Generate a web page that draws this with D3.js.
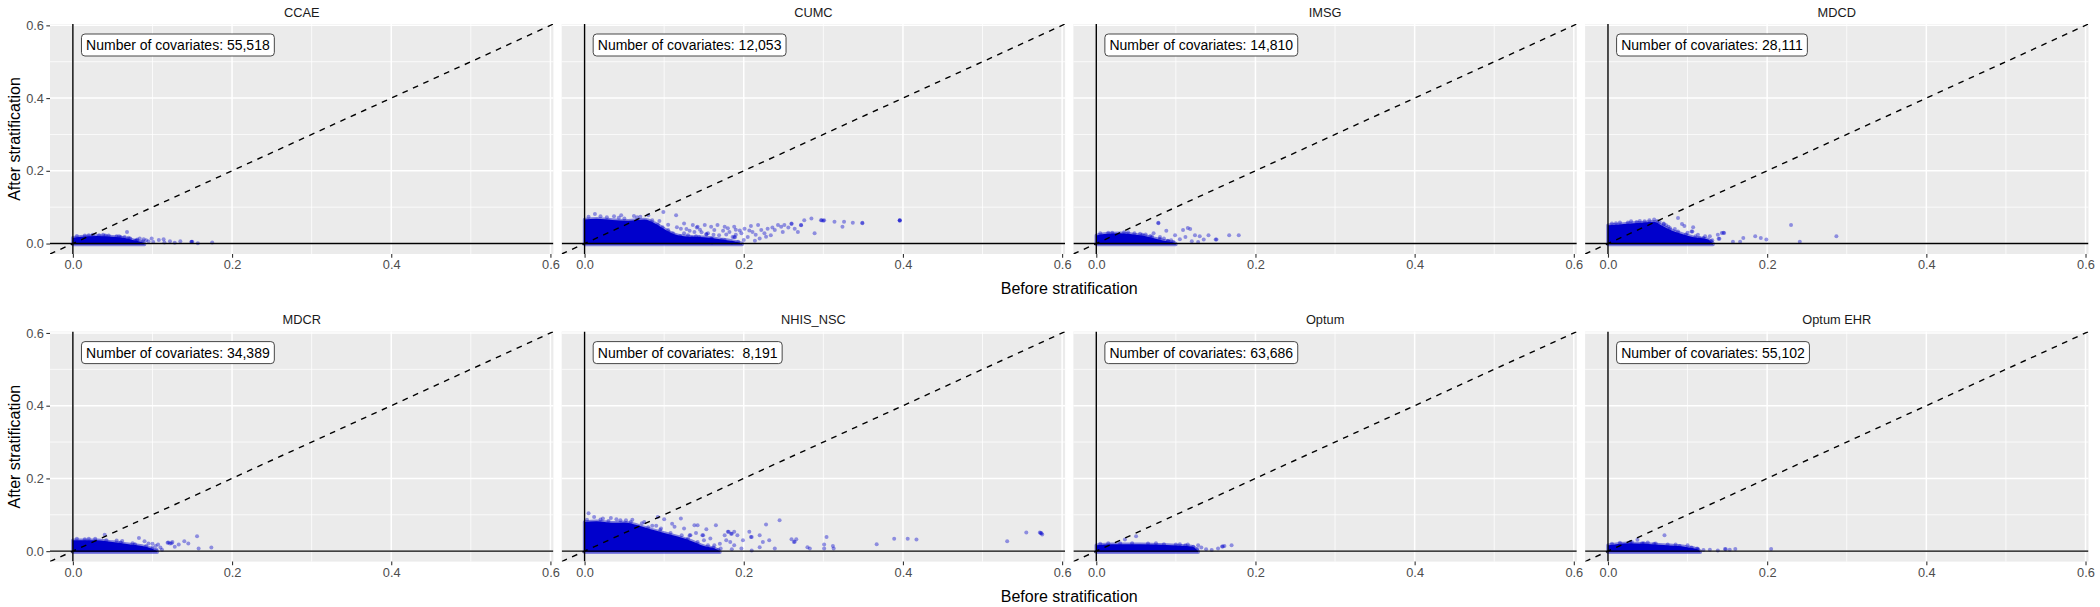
<!DOCTYPE html>
<html>
<head>
<meta charset="utf-8">
<script src="https://cdn.jsdelivr.net/npm/d3@7"></script>
<style>
  body { margin: 0; background: #fff; }
  svg text { font-family: "Liberation Sans", Arial, sans-serif; }
</style>
</head>
<body>
<svg id="chart" width="2100" height="607"></svg>
<script>
// Facet order, left to right, top row then bottom row
const panelNames = ['CCAE', 'CUMC', 'IMSG', 'MDCD', 'MDCR', 'NHIS_NSC', 'Optum', 'Optum EHR'];
const covariateCounts = [55518, 12053, 14810, 28111, 34389, 8191, 63686, 55102];

const majorBreaks = [0, 0.2, 0.4, 0.6];
const minorBreaks = [0.1, 0.3, 0.5];
const dataRange = [0, 0.575]; // largest value over all panels

// Saturated part of each cloud: [before, upper edge of after]
const coreCCAE = [[0, 0.016], [0.01, 0.019], [0.03, 0.021], [0.05, 0.019], [0.065, 0.015], [0.075, 0.01], [0.085, 0.005], [0.09, 0]];
const coreCUMC = [[0, 0.066], [0.015, 0.068], [0.035, 0.065], [0.055, 0.063], [0.075, 0.066], [0.088, 0.056], [0.1, 0.04], [0.112, 0.026], [0.125, 0.02], [0.15, 0.017], [0.17, 0.012], [0.188, 0.006], [0.198, 0]];
const coreIMSG = [[0, 0.022], [0.01, 0.026], [0.03, 0.028], [0.05, 0.024], [0.065, 0.019], [0.075, 0.013], [0.085, 0.008], [0.095, 0.004], [0.1, 0]];
const coreMDCD = [[0, 0.05], [0.02, 0.054], [0.045, 0.058], [0.058, 0.06], [0.067, 0.05], [0.08, 0.036], [0.092, 0.027], [0.108, 0.017], [0.125, 0.012], [0.132, 0]];
const coreMDCR = [[0, 0.03], [0.03, 0.03], [0.05, 0.025], [0.07, 0.019], [0.087, 0.014], [0.099, 0.007], [0.106, 0]];
const coreNHIS = [[0, 0.08], [0.015, 0.082], [0.035, 0.078], [0.05, 0.079], [0.067, 0.071], [0.083, 0.06], [0.1, 0.05], [0.117, 0.04], [0.134, 0.028], [0.15, 0.014], [0.165, 0.006], [0.17, 0]];
const coreOptum = [[0, 0.016], [0.02, 0.019], [0.055, 0.019], [0.095, 0.016], [0.12, 0.013], [0.128, 0]];
const coreOptumEHR = [[0, 0.016], [0.025, 0.022], [0.07, 0.017], [0.1, 0.011], [0.112, 0.005], [0.116, 0]];

// Scattered covariates: [before, after]
const ptsCCAE = [[0.068, 0.032], [0.041, 0.022], [0.055, 0.02], [0.084, 0.014], [0.089, 0.012], [0.099, 0.014], [0.108, 0.01], [0.114, 0.012], [0.122, 0.006], [0.135, 0.006], [0.149, 0.005], [0.149, 0.004], [0.15, 0.005], [0.157, 0.001], [0.175, 0.003], [0.095, 0.006], [0.078, 0.008], [0.02, 0.023], [0.033, 0.023], [0.06, 0.018], [0.07, 0.016], [0.101, 0.004], [0.115, 0.003], [0.128, 0.002], [0.092, 0.009], [0.081, 0.011],
  [0.005, 0.021], [0.015, 0.022], [0.025, 0.024], [0.045, 0.022], [0.058, 0.02], [0.072, 0.014], [0.08, 0.009], [0.088, 0.006], [0.065, 0.018], [0.038, 0.024]];
const ptsCUMC = [[0.013, 0.081], [0.037, 0.075], [0.046, 0.078], [0.062, 0.076], [0.08, 0.078], [0.099, 0.087], [0.115, 0.078], [0.094, 0.062], [0.105, 0.052],
  [0.125, 0.055], [0.136, 0.051], [0.142, 0.046], [0.151, 0.051], [0.159, 0.046], [0.167, 0.051], [0.176, 0.046], [0.188, 0.046], [0.201, 0.041], [0.209, 0.048], [0.218, 0.051], [0.222, 0.037], [0.234, 0.023], [0.243, 0.051], [0.247, 0.046], [0.251, 0.051], [0.26, 0.055], [0.26, 0.054], [0.264, 0.041], [0.268, 0.032], [0.272, 0.051], [0.272, 0.05], [0.276, 0.064], [0.285, 0.069], [0.289, 0.028], [0.297, 0.064], [0.298, 0.064], [0.3, 0.063], [0.301, 0.064], [0.314, 0.06], [0.326, 0.06], [0.324, 0.046], [0.337, 0.057], [0.349, 0.057], [0.349, 0.056], [0.396, 0.064], [0.396, 0.064], [0.396, 0.063],
  [0.105, 0.037], [0.111, 0.028], [0.117, 0.014], [0.121, 0.041], [0.13, 0.023], [0.134, 0.009], [0.138, 0.032], [0.144, 0.018], [0.148, 0.005], [0.155, 0.028], [0.159, 0.014], [0.163, 0.037], [0.169, 0.023], [0.176, 0.009], [0.182, 0.032], [0.186, 0.018], [0.193, 0.005], [0.197, 0.028], [0.205, 0.018], [0.211, 0.032], [0.22, 0.014], [0.226, 0.028], [0.23, 0.041], [0.239, 0.037], [0.249, 0.032], [0.153, 0.026], [0.153, 0.025], [0.17, 0.004], [0.171, 0.004], [0.188, 0.018], [0.189, 0.017], [0.128, 0.04], [0.145, 0.038], [0.116, 0.045], [0.18, 0.042], [0.195, 0.036], [0.215, 0.024], [0.2, 0.01], [0.185, 0.003], [0.16, 0.003], [0.14, 0.02], [0.125, 0.028], [0.11, 0.01], [0.178, 0.025],
  [0.005, 0.074], [0.02, 0.075], [0.028, 0.072], [0.043, 0.071], [0.05, 0.069], [0.066, 0.072], [0.07, 0.074], [0.085, 0.064], [0.092, 0.052], [0.098, 0.045], [0.106, 0.03], [0.12, 0.02], [0.135, 0.016], [0.16, 0.013], [0.172, 0.01], [0.175, 0.004],
  [0.132, 0.035], [0.147, 0.031], [0.162, 0.024], [0.174, 0.035], [0.19, 0.024], [0.207, 0.036], [0.214, 0.008], [0.228, 0.019], [0.236, 0.044], [0.256, 0.044], [0.19, 0.038], [0.141, 0.044]];
const ptsIMSG = [[0.078, 0.057], [0.078, 0.056], [0.072, 0.028], [0.088, 0.035], [0.109, 0.037], [0.115, 0.043], [0.118, 0.04], [0.124, 0.023], [0.13, 0.02], [0.135, 0.011], [0.141, 0.023], [0.15, 0.011], [0.151, 0.011], [0.167, 0.023], [0.179, 0.023], [0.099, 0.023], [0.085, 0.014], [0.094, 0.009], [0.105, 0.012], [0.112, 0.018], [0.12, 0.006], [0.128, 0.004], [0.04, 0.031], [0.055, 0.027], [0.062, 0.025], [0.02, 0.03], [0.068, 0.021], [0.08, 0.018], [0.09, 0.006],
  [0.005, 0.028], [0.015, 0.03], [0.035, 0.031], [0.048, 0.028], [0.058, 0.024], [0.07, 0.019], [0.08, 0.013], [0.09, 0.008], [0.097, 0.004]];
const ptsMDCD = [[0.029, 0.061], [0.036, 0.059], [0.046, 0.061], [0.058, 0.066], [0.065, 0.059], [0.073, 0.05], [0.088, 0.07], [0.093, 0.054], [0.096, 0.048], [0.107, 0.045], [0.105, 0.033], [0.106, 0.033], [0.113, 0.024], [0.122, 0.02], [0.128, 0.02], [0.138, 0.024], [0.143, 0.029], [0.146, 0.029], [0.145, 0.03], [0.139, 0.013], [0.14, 0.013], [0.157, 0.005], [0.166, 0.005], [0.17, 0.015], [0.185, 0.02], [0.192, 0.015], [0.199, 0.011], [0.23, 0.051], [0.241, 0.005], [0.287, 0.02], [0.076, 0.046], [0.084, 0.04], [0.1, 0.03], [0.115, 0.015], [0.12, 0.008], [0.131, 0.009], [0.01, 0.056], [0.07, 0.055],
  [0.005, 0.055], [0.015, 0.058], [0.025, 0.058], [0.04, 0.062], [0.052, 0.064], [0.062, 0.062], [0.07, 0.053], [0.078, 0.042], [0.088, 0.033], [0.098, 0.025], [0.11, 0.02], [0.12, 0.015], [0.13, 0.006]];
const ptsMDCR = [[0.04, 0.045], [0.062, 0.028], [0.083, 0.036], [0.09, 0.027], [0.095, 0.021], [0.1, 0.02], [0.104, 0.014], [0.11, 0.01], [0.119, 0.023], [0.122, 0.021], [0.125, 0.025], [0.12, 0.024], [0.124, 0.022], [0.133, 0.018], [0.14, 0.027], [0.145, 0.021], [0.156, 0.041], [0.158, 0.007], [0.174, 0.01], [0.02, 0.034], [0.055, 0.029], [0.075, 0.022], [0.112, 0.004], [0.128, 0.012], [0.107, 0.018],
  [0.005, 0.034], [0.015, 0.033], [0.028, 0.034], [0.042, 0.03], [0.06, 0.024], [0.078, 0.019], [0.092, 0.014], [0.1, 0.009], [0.105, 0.004]];
const ptsNHIS = [[0.005, 0.104], [0.012, 0.094], [0.023, 0.09], [0.033, 0.091], [0.052, 0.085], [0.075, 0.08], [0.092, 0.094], [0.1, 0.088], [0.121, 0.09], [0.096, 0.062], [0.113, 0.067], [0.125, 0.062], [0.138, 0.071], [0.142, 0.071], [0.153, 0.06], [0.165, 0.071], [0.132, 0.044], [0.133, 0.044], [0.148, 0.044], [0.149, 0.044], [0.15, 0.03], [0.163, 0.016], [0.171, 0.007], [0.176, 0.044], [0.18, 0.053], [0.181, 0.053], [0.184, 0.048], [0.185, 0.048], [0.188, 0.053], [0.192, 0.044], [0.199, 0.03], [0.178, 0.03], [0.183, 0.025], [0.188, 0.016], [0.197, 0.007], [0.207, 0.053], [0.209, 0.039], [0.21, 0.039], [0.22, 0.044], [0.224, 0.025], [0.228, 0.073], [0.22, 0.011], [0.232, 0.03], [0.239, 0.007], [0.245, 0.085], [0.26, 0.033], [0.263, 0.025], [0.264, 0.026], [0.266, 0.033], [0.28, 0.011], [0.283, 0.007], [0.301, 0.018], [0.304, 0.039], [0.301, 0.007], [0.312, 0.014], [0.313, 0.007], [0.367, 0.019], [0.389, 0.034], [0.406, 0.034], [0.417, 0.032], [0.531, 0.027], [0.555, 0.051], [0.572, 0.051], [0.573, 0.05], [0.575, 0.046], [0.574, 0.049], [0.11, 0.075], [0.09, 0.07], [0.14, 0.05], [0.158, 0.035], [0.17, 0.02], [0.06, 0.086], [0.04, 0.088], [0.085, 0.07], [0.128, 0.03], [0.145, 0.01], [0.155, 0.005], [0.185, 0.005], [0.21, 0.002],
  [0.003, 0.086], [0.02, 0.087], [0.03, 0.083], [0.045, 0.085], [0.058, 0.08], [0.072, 0.077], [0.08, 0.066], [0.095, 0.058], [0.108, 0.05], [0.122, 0.044], [0.13, 0.035], [0.142, 0.025], [0.155, 0.016], [0.162, 0.01], [0.168, 0.004]];
const ptsOptum = [[0.05, 0.041], [0.036, 0.032], [0.128, 0.016], [0.138, 0.005], [0.153, 0.007], [0.158, 0.013], [0.159, 0.013], [0.161, 0.014], [0.17, 0.016], [0.115, 0.018], [0.105, 0.019], [0.075, 0.022], [0.03, 0.022], [0.132, 0.01], [0.145, 0.003],
  [0.005, 0.02], [0.015, 0.022], [0.045, 0.022], [0.065, 0.021], [0.085, 0.019], [0.1, 0.018], [0.112, 0.016], [0.122, 0.012], [0.127, 0.006]];
const ptsOptumEHR = [[0.071, 0.044], [0.037, 0.031], [0.043, 0.022], [0.1, 0.016], [0.112, 0.007], [0.128, 0.004], [0.138, 0.002], [0.147, 0.006], [0.148, 0.005], [0.153, 0.004], [0.16, 0.006], [0.205, 0.006], [0.05, 0.024], [0.085, 0.018], [0.12, 0.003], [0.03, 0.025], [0.06, 0.021],
  [0.005, 0.02], [0.015, 0.023], [0.028, 0.025], [0.045, 0.022], [0.058, 0.02], [0.075, 0.018], [0.09, 0.014], [0.105, 0.01], [0.113, 0.006]];

const cores = [coreCCAE, coreCUMC, coreIMSG, coreMDCD, coreMDCR, coreNHIS, coreOptum, coreOptumEHR];
const points = [ptsCCAE, ptsCUMC, ptsIMSG, ptsMDCD, ptsMDCR, ptsNHIS, ptsOptum, ptsOptumEHR];

// Layout
const panelW = 503.4;
const panelH = 230;
const colStep = 511.7;
const rowStep = 307.6;
const left0 = 50;
const top0 = 24;
const tickLen = 3.67;
const pointColor = '#0000CC';

const svg = d3.select('#chart');

// ggplot style 5% expansion of the data range
const span = dataRange[1] - dataRange[0];
const lims = [dataRange[0] - 0.05 * span, dataRange[1] + 0.05 * span];

const x = d3.scaleLinear().domain(lims).range([0, panelW]);
const y = d3.scaleLinear().domain(lims).range([panelH, 0]);

const fmt = d3.format('.1f');
const countFmt = d3.format(',');

const coreArea = d3.area()
  .x(d => x(d[0]))
  .y0(y(0) + 1)
  .y1(d => y(d[1]))
  .curve(d3.curveMonotoneX);

panelNames.forEach((name, i) => {
  const col = i % 4;
  const row = Math.floor(i / 4);
  const g = svg.append('g')
    .attr('transform', `translate(${left0 + col * colStep},${top0 + row * rowStep})`);

  // Panel background
  g.append('rect')
    .attr('width', panelW)
    .attr('height', panelH)
    .attr('fill', '#EBEBEB');

  // Minor then major grid
  minorBreaks.forEach(b => {
    g.append('line').attr('x1', x(b)).attr('x2', x(b)).attr('y1', 0).attr('y2', panelH)
      .attr('stroke', '#fff').attr('stroke-width', 0.75);
    g.append('line').attr('y1', y(b)).attr('y2', y(b)).attr('x1', 0).attr('x2', panelW)
      .attr('stroke', '#fff').attr('stroke-width', 0.75);
  });
  majorBreaks.forEach(b => {
    g.append('line').attr('x1', x(b)).attr('x2', x(b)).attr('y1', 0).attr('y2', panelH)
      .attr('stroke', '#fff').attr('stroke-width', 1.5);
    g.append('line').attr('y1', y(b)).attr('y2', y(b)).attr('x1', 0).attr('x2', panelW)
      .attr('stroke', '#fff').attr('stroke-width', 1.5);
  });

  // Clip to panel
  g.append('clipPath').attr('id', `clip-${i}`)
    .append('rect').attr('width', panelW).attr('height', panelH);
  const plotG = g.append('g').attr('clip-path', `url(#clip-${i})`);

  // Dense part of the cloud, soft edge first then solid body
  plotG.append('path')
    .datum(cores[i])
    .attr('d', coreArea)
    .attr('fill', 'none')
    .attr('stroke', pointColor)
    .attr('stroke-opacity', 0.45)
    .attr('stroke-width', 3.5)
    .attr('stroke-linejoin', 'round');
  plotG.append('path')
    .datum(cores[i])
    .attr('d', coreArea)
    .attr('fill', pointColor);

  // Scattered points
  plotG.selectAll('circle')
    .data(points[i])
    .join('circle')
      .attr('cx', d => x(d[0]))
      .attr('cy', d => y(d[1]))
      .attr('r', 2)
      .attr('fill', pointColor)
      .attr('fill-opacity', 0.4);

  // Reference lines at zero
  plotG.append('line').attr('x1', x(0)).attr('x2', x(0)).attr('y1', 0).attr('y2', panelH)
    .attr('stroke', '#000').attr('stroke-width', 1.4);
  plotG.append('line').attr('x1', 0).attr('x2', panelW).attr('y1', y(0)).attr('y2', y(0))
    .attr('stroke', '#000').attr('stroke-width', 1.4);

  // Diagonal y = x
  plotG.append('line')
    .attr('x1', x(lims[0])).attr('y1', y(lims[0]))
    .attr('x2', x(lims[1])).attr('y2', y(lims[1]))
    .attr('stroke', '#000')
    .attr('stroke-width', 1.4)
    .attr('stroke-dasharray', '5.7,5.7');

  // Number of covariates label
  const labelG = g.append('g')
    .attr('transform', `translate(${x(0) + 8.6},10)`);
  const labelBox = labelG.append('rect');
  const labelText = labelG.append('text')
    .attr('x', 4.6)
    .attr('y', 16)
    .attr('font-size', '14px')
    .attr('fill', '#000')
    .style('white-space', 'pre')
    .text(`Number of covariates: ${countFmt(covariateCounts[i]).padStart(6, ' ')}`);
  const tw = labelText.node().getComputedTextLength();
  labelBox
    .attr('width', tw + 9.2)
    .attr('height', 22)
    .attr('rx', 3.5)
    .attr('fill', '#fff')
    .attr('stroke', '#333')
    .attr('stroke-width', 0.9);

  // Strip title
  g.append('text')
    .attr('x', panelW / 2)
    .attr('y', -7.5)
    .attr('text-anchor', 'middle')
    .attr('font-size', '12.8px')
    .attr('fill', '#1A1A1A')
    .text(name);

  // X axis on every panel
  g.append('g')
    .attr('transform', `translate(0,${panelH})`)
    .call(d3.axisBottom(x).tickValues(majorBreaks).tickSize(tickLen).tickPadding(2.4).tickFormat(fmt))
    .call(a => a.select('.domain').remove())
    .call(a => a.selectAll('line').attr('stroke', '#333').attr('stroke-width', 1.1))
    .call(a => a.selectAll('text').attr('fill', '#4D4D4D'))
    .attr('font-size', '12.8px')
    .attr('font-family', null);

  // Y axis on first column only
  if (col === 0) {
    g.append('g')
      .call(d3.axisLeft(y).tickValues(majorBreaks).tickSize(tickLen).tickPadding(2.4).tickFormat(fmt))
      .call(a => a.select('.domain').remove())
      .call(a => a.selectAll('line').attr('stroke', '#333').attr('stroke-width', 1.1))
      .call(a => a.selectAll('text').attr('fill', '#4D4D4D'))
      .attr('font-size', '12.8px')
      .attr('font-family', null);
  }
}); // End of panels

// Axis titles, one pair per row
[0, 1].forEach(row => {
  const rowTop = top0 + row * rowStep;
  svg.append('text')
    .attr('x', (left0 + left0 + 3 * colStep + panelW) / 2)
    .attr('y', rowTop + panelH + 40)
    .attr('text-anchor', 'middle')
    .attr('font-size', '16px')
    .attr('fill', '#000')
    .text('Before stratification');

  svg.append('text')
    .attr('transform', `translate(19.5,${rowTop + panelH / 2}) rotate(-90)`)
    .attr('text-anchor', 'middle')
    .attr('font-size', '16px')
    .attr('fill', '#000')
    .text('After stratification');
});
</script>
</body>
</html>
